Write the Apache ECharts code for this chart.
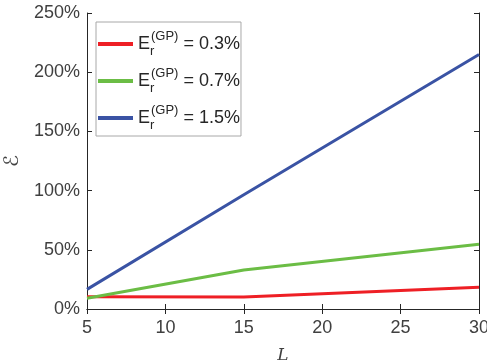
<!DOCTYPE html>
<html><head><meta charset="utf-8">
<script src="https://cdn.jsdelivr.net/npm/echarts@6/dist/echarts.min.js"></script>
<style>html,body{margin:0;padding:0;background:#fff}#c{width:487px;height:364px}</style>
</head><body><div id="c"></div>
<script>
const xValues = [5, 15, 30];
const seriesNames = ['0.3%', '0.7%', '1.5%'];
const red03 = [10.4, 10.2, 18.3];
const green07 = [9.0, 33.0, 54.6];
const blue15 = [16.6, 96.5, 215.0];
const xTicks = [5, 10, 15, 20, 25, 30];
const yTicks = [0, 50, 100, 150, 200, 250];

const colors = ['#ee1f25', '#6bbd45', '#3a53a4'];
const allData = [red03, green07, blue15];
const axisColor = '#262626';
const font = 'Liberation Sans, Arial, sans-serif';

const chart = echarts.init(document.getElementById('c'));
const series = seriesNames.map((n, i) => ({
  name: n, type: 'line', showSymbol: false, symbol: 'none',
  data: xValues.map((x, j) => [x, allData[i][j]]),
  lineStyle: { color: colors[i], width: 3 }, itemStyle: { color: colors[i] },
  xAxisIndex: 0, yAxisIndex: 0
}));
const common = {
  axisLine: { show: true, lineStyle: { color: axisColor, width: 1 } },
  axisTick: { show: true, inside: true, length: 5, lineStyle: { color: axisColor } },
  splitLine: { show: false }
};
chart.setOption({
  animation: false,
  grid: { left: 87, right: 8, top: 13, bottom: 55, containLabel: false, outerBoundsMode: 'none' },
  legend: {
    orient: 'vertical', left: 96, top: 22,
    data: seriesNames,
    itemWidth: 35, itemHeight: 4, itemGap: 9,
    icon: 'rect',
    backgroundColor: '#fff', borderColor: '#a8a8a8', borderWidth: 1,
    padding: [8, 1, 4, 2],
    formatter: n => '{E|E}{r|r}{g|(GP)}{eq| = ' + n + '}',
    textStyle: {
      fontFamily: font, color: '#262626', fontSize: 17,
      rich: {
        E: { fontSize: 18, fontFamily: font, color: '#262626', lineHeight: 34, verticalAlign: 'middle' },
        r: { fontSize: 13, fontFamily: font, color: '#262626', width: 1, padding: [14, 0, 0, 0], lineHeight: 34 },
        g: { fontSize: 13, fontFamily: font, color: '#262626', padding: [0, 0, 15, 0], lineHeight: 34 },
        eq: { fontSize: 18, fontFamily: font, color: '#262626', lineHeight: 34 }
      }
    }
  },
  xAxis: [
    Object.assign({
      type: 'value', min: 5, max: 30, interval: 5,
      name: 'L', nameLocation: 'middle', nameGap: 38,
      nameTextStyle: { fontFamily: 'DejaVu Serif, serif', fontStyle: 'italic', fontSize: 17, color: '#404040' },
      axisLabel: { fontFamily: font, fontSize: 18, color: '#404040', margin: 10 }
    }, common),
    Object.assign({ type: 'value', position: 'top', min: 5, max: 30, interval: 5, axisLabel: { show: false } }, common)
  ],
  yAxis: [
    Object.assign({
      type: 'value', min: 0, max: 250, interval: 50,
      name: 'ℰ', nameLocation: 'middle', nameGap: 64, nameRotate: 90,
      nameTextStyle: { fontFamily: 'DejaVu Sans, Noto Sans, serif', fontSize: 20, color: '#404040' },
      axisLabel: { fontFamily: font, fontSize: 18, color: '#404040', margin: 7, formatter: v => v + '%' }
    }, common),
    Object.assign({ type: 'value', position: 'right', min: 0, max: 250, interval: 50, axisLabel: { show: false } }, common)
  ],
  series: series
});
</script></body></html>
